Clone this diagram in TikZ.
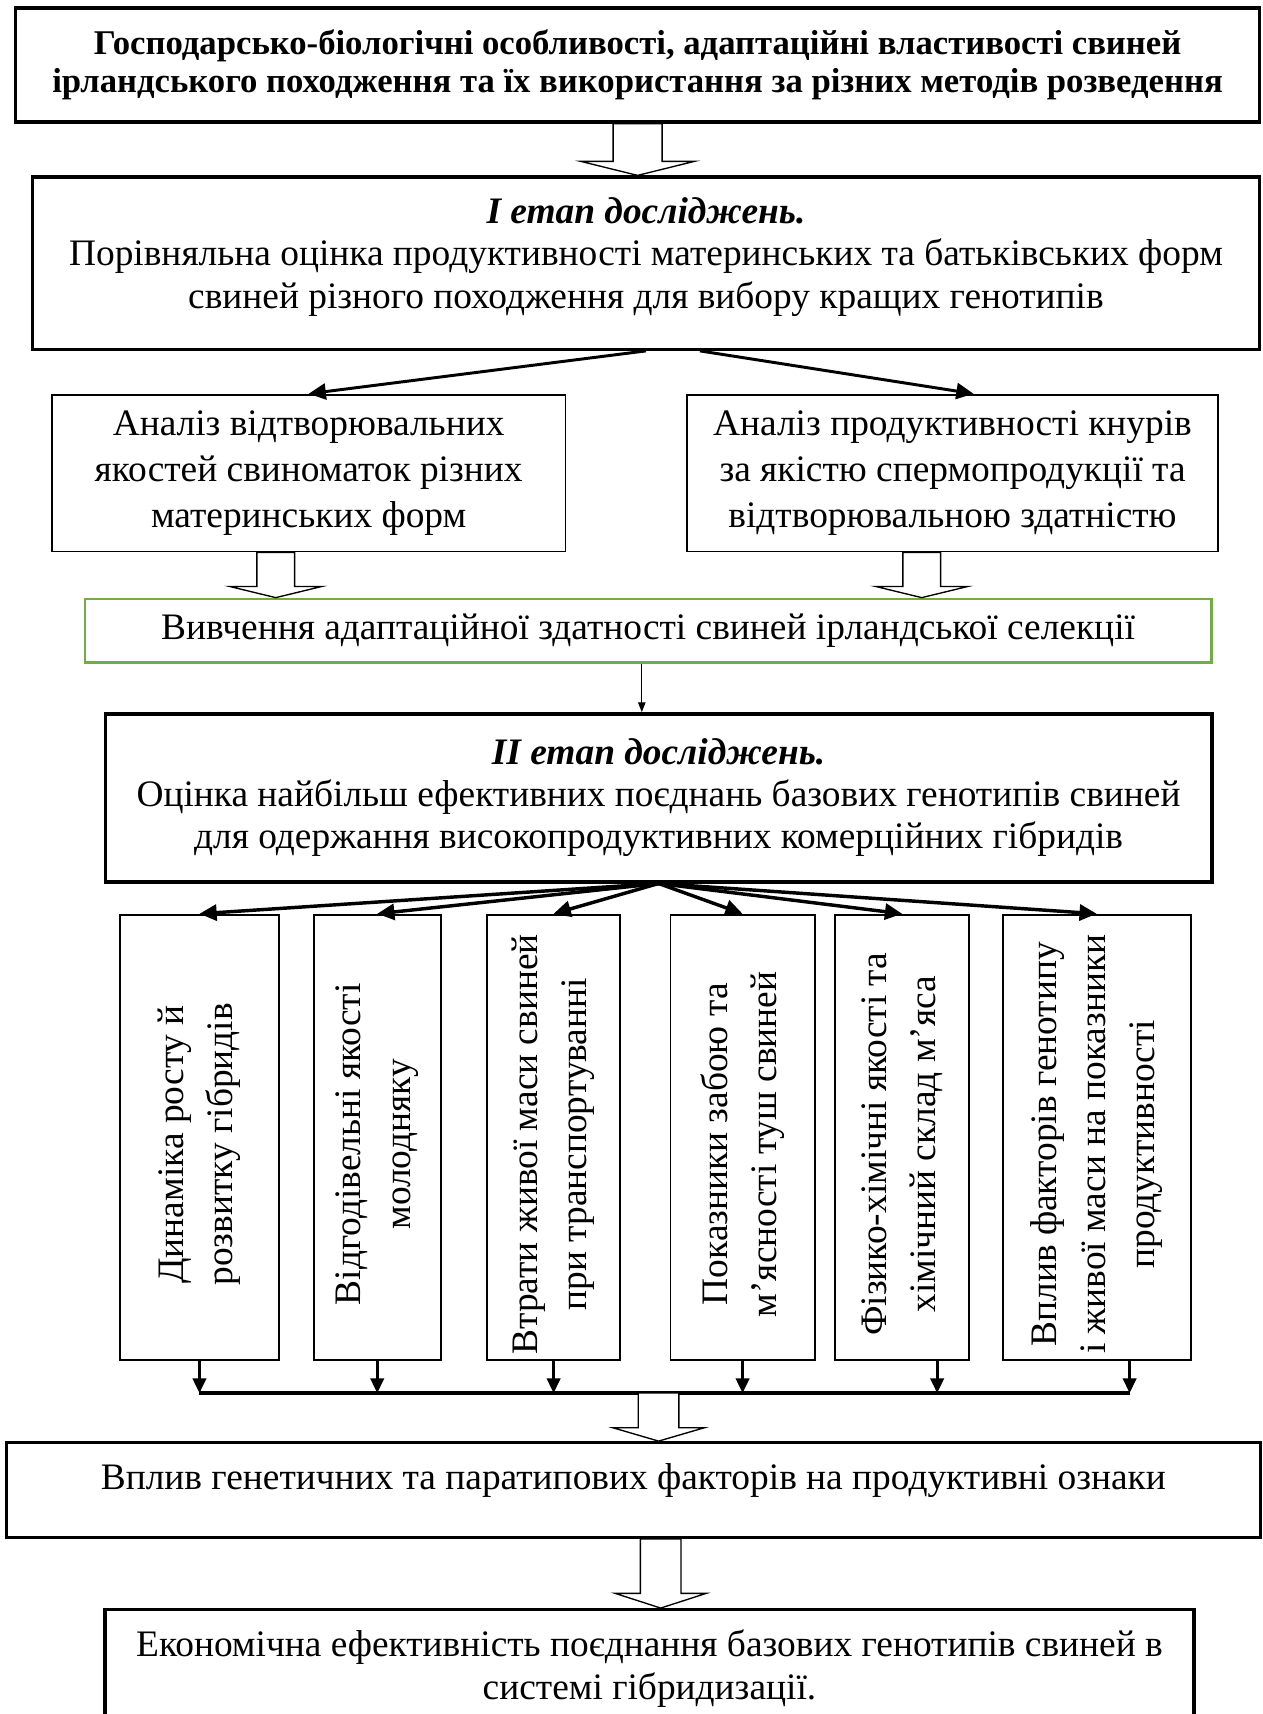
\documentclass[tikz,border=0pt]{standalone}
\usepackage{fontspec}
\setmainfont{Liberation Serif}
\usetikzlibrary{arrows.meta,calc}
\definecolor{ink}{HTML}{000000}
\definecolor{leaf}{HTML}{70AD47}
\tikzset{
  every node/.style={font=\fontsize{15.2}{17.3}\selectfont,text=ink,align=center,inner sep=0pt},
  heavy/.style={draw=ink,line width=1.35pt,fill=white},
  plain/.style={draw=ink,line width=.8pt},
  column/.style={draw=ink,line width=.8pt,minimum height=6.36cm},
  upright/.style={rotate=90,font=\fontsize{15.2}{20}\selectfont},
  fan/.style={-{Triangle[length=7pt,width=6.5pt]},draw=ink,line width=1.4pt},
  drop/.style={-{Triangle[length=6pt,width=5.5pt]},draw=ink,line width=1.1pt},
  link/.style={-{Triangle[length=4pt,width=3pt]},draw=ink,line width=.5pt},
  hollow/.style={draw=ink,fill=white,line width=.55pt,line join=miter},
}
% open block arrow pointing down: top anchor, tip anchor, shaft half width,
% head half width, head height
\newcommand{\hollowdown}[5]{%
  \draw[hollow] let \p1=(#1), \p2=(#2) in
    (\x1-#3,\y1) -- (\x1-#3,\y2+#5) -- (\x1-#4,\y2+#5) -- (\x1,\y2)
    -- (\x1+#4,\y2+#5) -- (\x1+#3,\y2+#5) -- (\x1+#3,\y1) -- cycle;}

\begin{document}
\begin{tikzpicture}[x=1cm,y=-1cm]           % y down, read like the page
\path[use as bounding box] (0,0) rectangle (18.04,24.49);
\clip (0,0) rectangle (18.04,24.49);

% Theme and the first stage
\node[heavy,font=\fontsize{14.1}{15.4}\selectfont\bfseries,minimum width=17.77cm,
      minimum height=1.63cm] (theme) at (9.11,.93)
  {Господарсько-біологічні особливості, адаптаційні властивості свиней\\
   ірландського походження та їх використання за різних методів розведення};
\node[heavy,text depth=.3cm,minimum width=17.54cm,
      minimum height=2.46cm] (stageone) at (9.23,3.76)
  {\textbf{\textit{I етап досліджень.}}\\
   Порівняльна оцінка продуктивності материнських та батьківських форм\\
   свиней різного походження для вибору кращих генотипів};
\hollowdown{theme.south}{stageone.north}{.35cm}{.81cm}{.2cm}

% Two analyses feed the adaptation study
\node[plain,font=\fontsize{15.2}{18.7}\selectfont,minimum width=7.34cm,
      minimum height=2.24cm] (sows) at (4.41,6.76)
  {Аналіз відтворювальних\\якостей свиноматок різних\\материнських форм};
\node[plain,font=\fontsize{15.2}{18.7}\selectfont,minimum width=7.59cm,
      minimum height=2.24cm] (boars) at (13.61,6.76)
  {Аналіз продуктивності кнурів\\за якістю спермопродукції та\\відтворювальною здатністю};
\draw[fan,line width=1.2pt] (stageone.south) -- (sows.north);
\draw[fan,line width=1.2pt] ([xshift=.77cm]stageone.south) -- ([xshift=.3cm]boars.north);

\node[draw=leaf,line width=.9pt,minimum width=16.1cm,minimum height=.91cm]
  (adapt) at (9.26,9.01)
  {Вивчення адаптаційної здатності свиней ірландської селекції};
\hollowdown{[xshift=-.47cm]sows.south}{adapt.north}{.27cm}{.66cm}{.16cm}
\hollowdown{[xshift=-.44cm]boars.south}{adapt.north}{.27cm}{.66cm}{.16cm}

% Second stage and its six directions
\node[heavy,font=\fontsize{15.2}{17}\selectfont,minimum width=15.81cm,
      minimum height=2.4cm] (stagetwo) at (9.41,11.4)
  {\textbf{\textit{II етап досліджень.}}\\
   Оцінка найбільш ефективних поєднань базових генотипів свиней\\
   для одержання високопродуктивних комерційних гібридів};
\draw[link] ([xshift=-.09cm]adapt.south) -- ([xshift=-.09cm]adapt.south |- stagetwo.north);

\foreach \n/\cx/\w/\txt in {
    1/2.85/2.27/{Динаміка росту й\\розвитку гібридів},
    2/5.39/1.81/{Відгодівельні якості\\молодняку},
    3/7.91/1.90/{Втрати живої маси свиней\\при транспортуванні},
    4/10.61/2.06/{Показники забою та\\м’ясності туш свиней},
    5/12.89/1.91/{Фізико-хімічні якості та\\хімічний склад м’яса},
    6/15.67/2.69/{Вплив факторів генотипу\\і живої маси на показники\\продуктивності}}{
  \node[column,minimum width=\w cm] (c\n) at (\cx,16.25) {};
  \node[upright] (t\n) at ([yshift=-.1cm]c\n.center) {\txt};
  \draw[fan] (stagetwo.south) -- (c\n.north);
}

% Collecting bus under the columns (the last two drops sit right of centre)
\coordinate (busL) at ($(c1.south)+(0,.46)$);
\coordinate (busR) at ($(c6.south)+(.47,.46)$);
\coordinate (busM) at (stagetwo.south |- busL);
\foreach \n/\dx in {1/0,2/0,3/0,4/0,5/.5,6/.47}
  \draw[drop] ($(c\n.south)+(\dx,0)$) -- ($(c\n.south)+(\dx,.46)$);
\draw[line width=1.35pt] (busL) -- (busR);

\node[draw=ink,line width=1.1pt,text depth=.4cm,minimum width=17.91cm,
      minimum height=1.36cm] (factors) at (9.05,21.29)
  {Вплив генетичних та паратипових факторів на продуктивні ознаки};
\hollowdown{busM}{factors.north}{.29cm}{.65cm}{.19cm}

\node[heavy,minimum width=15.56cm,minimum height=1.68cm] (econ) at (9.28,23.84)
  {Економічна ефективність поєднання базових генотипів свиней в\\
   системі гібридизації.};
\hollowdown{[xshift=.39cm]factors.south}{econ.north}{.29cm}{.65cm}{.21cm}

\end{tikzpicture}
\end{document}
